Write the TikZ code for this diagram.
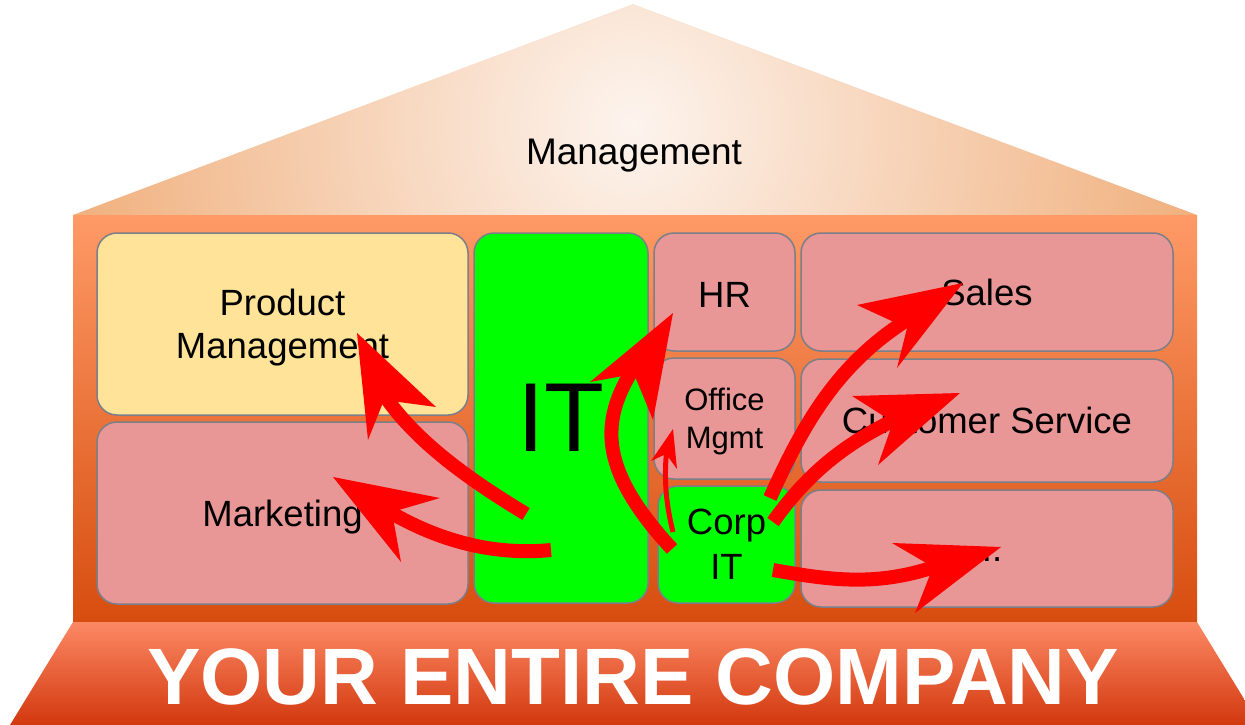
\documentclass[tikz,border=0pt]{standalone}
\usepackage{fontspec}
\setmainfont{Liberation Sans}
\definecolor{roofin}{HTML}{FDF4EE}
\definecolor{roofout}{HTML}{F0AF7C}
\definecolor{bodytop}{HTML}{FE9A66}
\definecolor{bodybot}{HTML}{D74D0F}
\definecolor{basetop}{HTML}{FC8964}
\definecolor{basebot}{HTML}{D2380E}
\definecolor{pinkbox}{HTML}{E89696}
\definecolor{yellowbox}{HTML}{FEE398}
\definecolor{greenbox}{HTML}{00FF00}
\definecolor{boxline}{HTML}{7A7F8A}
\pgfdeclareradialshading{roofshade}{\pgfpoint{0bp}{0bp}}{color(0bp)=(roofin); color(25bp)=(roofout); color(50bp)=(roofout)}
\tikzset{
  box/.style={draw=boxline, line width=1.5pt, rounded corners=20pt, inner sep=0pt,
    align=center, font=\fontsize{36.5}{43}\selectfont},
  shaft/.style={draw=red, line width=14pt},
  thinshaft/.style={draw=red, line width=5pt},
  head/.style={fill=red}
}
\begin{document}
\begin{tikzpicture}[x=1pt,y=-1pt]
\useasboundingbox (0,0) rectangle (1245,725);
% roof
\begin{scope}
  \clip (73,215) -- (633,4) -- (1197,215) -- cycle;
  \shade[shading=roofshade] (633,125) circle (575pt);
\end{scope}
\node[font=\fontsize{37}{44}\selectfont, anchor=base] (mgmt) at (634,164) {Management};
% body
\shade[top color=bodytop, bottom color=bodybot] (73,215) rectangle (1197,622);
% base
\shade[top color=basetop, bottom color=basebot] (73,622) -- (1197,622) -- (1260,725) -- (10,725) -- cycle;
\node[font=\fontsize{80}{80}\selectfont\bfseries, text=white] (company) at (633,676.5) {YOUR ENTIRE COMPANY};
% boxes
\node[box, fill=yellowbox, minimum width=371pt, minimum height=182pt, text depth=0pt] (pm) at (282.5,324) {Product\\Management};
\node[box, fill=pinkbox, minimum width=371pt, minimum height=182pt, text height=35pt] (mk) at (282.5,513) {Marketing};
\node[box, fill=greenbox, minimum width=174pt, minimum height=370pt, font=\fontsize{98}{98}\selectfont] (it) at (561,418) {IT};
\node[box, fill=pinkbox, minimum width=141pt, minimum height=118pt, text height=30pt] (hr) at (724.5,292) {HR};
\node[box, fill=pinkbox, minimum width=141pt, minimum height=121pt, font=\fontsize{31}{38}\selectfont, text depth=0pt] (om) at (724.5,418.5) {Office\\Mgmt};
\node[box, fill=greenbox, minimum width=137pt, minimum height=117pt, font=\fontsize{36.5}{45}\selectfont] (cit) at (726.5,544.5) {Corp\\IT};
\node[box, fill=pinkbox, minimum width=372pt, minimum height=118pt] (sa) at (987,292) {Sales};
\node[box, fill=pinkbox, minimum width=372pt, minimum height=123pt] (cs) at (987,420.5) {Customer Service};
\node[box, fill=pinkbox, minimum width=372pt, minimum height=117pt] (etc) at (987,548.5) {\vphantom{A}...};
% arrows
\coordinate (t1) at (526,514); \coordinate (e1) at (378,385);
\draw[shaft] (t1) .. controls (475,483) and (410,440) .. (e1);
\fill[head] (357,333) -- (368,440) -- (384,400) -- (436,407) -- cycle;
\coordinate (t2) at (551,550); \coordinate (e2) at (375,503);
\draw[shaft] (t2) .. controls (500,555) and (440,545) .. (e2);
\fill[head] (333,477) -- (440,498) -- (392,512) -- (401,562) -- cycle;
\coordinate (t3) at (672,549); \coordinate (e3) at (650,345);
\draw[shaft] (t3) .. controls (590,460) and (600,410) .. (e3);
\fill[head] (673,313) -- (590,382) -- (634,374) -- (653,420) -- cycle;
\coordinate (t4) at (673,532); \coordinate (e4) at (667,447);
\draw[thinshaft] (t4) .. controls (665,500) and (664,475) .. (e4);
\fill[head] (673,429) -- (651,461) -- (666,454) -- (677,469) -- cycle;
\coordinate (t5) at (770,498); \coordinate (e5) at (915,315);
\draw[shaft] (t5) .. controls (805,420) and (840,360) .. (e5);
\fill[head] (963,283) -- (857,305) -- (907,328) -- (897,368) -- cycle;
\coordinate (t6) at (773,522); \coordinate (e6) at (905,415);
\draw[shaft] (t6) .. controls (810,470) and (850,440) .. (e6);
\fill[head] (960,393) -- (852,396) -- (893,422) -- (878,465) -- cycle;
\coordinate (t7) at (773,570); \coordinate (e7) at (945,563);
\draw[shaft] (t7) .. controls (830,580) and (880,588) .. (e7);
\fill[head] (1001,547) -- (892,543) -- (933,567) -- (915,613) -- cycle;
\end{tikzpicture}
\end{document}
